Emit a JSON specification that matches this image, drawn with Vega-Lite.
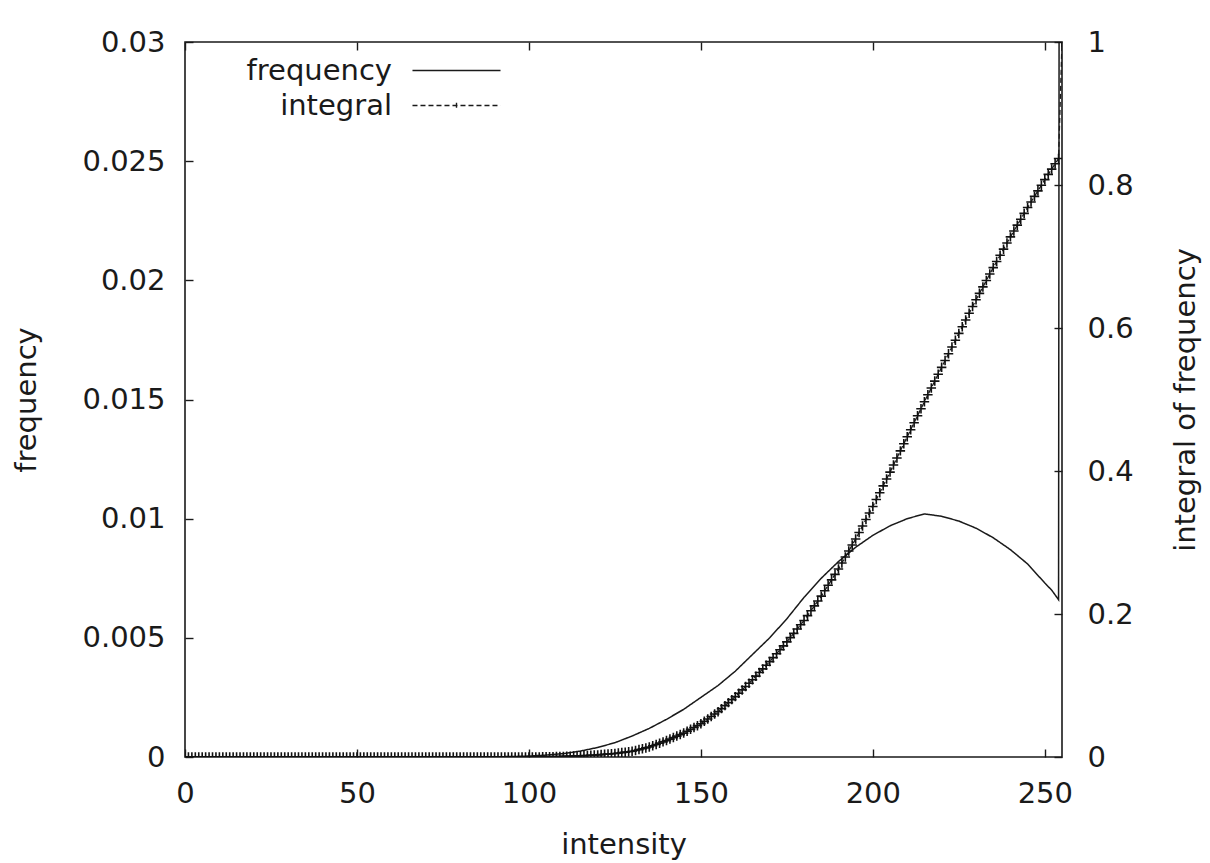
{
  "$schema": "https://vega.github.io/schema/vega-lite/v6.json",
  "width": 877,
  "height": 715,
  "autosize": "none",
  "padding": {"left": 185, "top": 42, "right": 148, "bottom": 106},
  "background": "white",
  "config": {
    "font": "DejaVu Sans",
    "view": {"stroke": "#1a1a1a", "strokeWidth": 1.6},
    "axis": {
      "domain": false,
      "grid": false,
      "tickColor": "#1a1a1a",
      "tickWidth": 1.4,
      "tickSize": 8,
      "offset": -8,
      "labelFont": "DejaVu Sans",
      "labelFontSize": 29,
      "labelColor": "#1a1a1a",
      "titleFont": "DejaVu Sans",
      "titleFontSize": 29,
      "titleFontWeight": "normal",
      "titleColor": "#1a1a1a"
    },
    "legend": {
      "labelFont": "DejaVu Sans",
      "labelFontSize": 29,
      "labelColor": "#1a1a1a"
    }
  },
  "datasets": {
    "freq": [
      {"i": 0, "f": 0}, {"i": 10, "f": 0}, {"i": 20, "f": 0}, {"i": 30, "f": 0}, {"i": 40, "f": 0},
      {"i": 50, "f": 0}, {"i": 60, "f": 0}, {"i": 70, "f": 0}, {"i": 80, "f": 0}, {"i": 90, "f": 0.00001},
      {"i": 95, "f": 0.00002}, {"i": 100, "f": 0.00004}, {"i": 105, "f": 0.00008}, {"i": 110, "f": 0.00014},
      {"i": 115, "f": 0.00025}, {"i": 120, "f": 0.0004}, {"i": 125, "f": 0.0006}, {"i": 130, "f": 0.00088},
      {"i": 135, "f": 0.0012}, {"i": 140, "f": 0.00158}, {"i": 145, "f": 0.002}, {"i": 150, "f": 0.0025},
      {"i": 155, "f": 0.003}, {"i": 160, "f": 0.0036}, {"i": 165, "f": 0.0043}, {"i": 170, "f": 0.005},
      {"i": 175, "f": 0.0058}, {"i": 180, "f": 0.0067}, {"i": 185, "f": 0.0075}, {"i": 190, "f": 0.0082},
      {"i": 195, "f": 0.0088}, {"i": 200, "f": 0.0093}, {"i": 205, "f": 0.0097}, {"i": 210, "f": 0.01},
      {"i": 215, "f": 0.0102}, {"i": 220, "f": 0.0101}, {"i": 225, "f": 0.0099}, {"i": 230, "f": 0.0096},
      {"i": 235, "f": 0.0092}, {"i": 240, "f": 0.0087}, {"i": 245, "f": 0.0081}, {"i": 250, "f": 0.0073},
      {"i": 252, "f": 0.007}, {"i": 254, "f": 0.0066}, {"i": 255, "f": 0.163}
    ],
    "integ": [
      {"i": 0, "v": 0}, {"i": 1, "v": 0}, {"i": 2, "v": 0}, {"i": 3, "v": 0}, {"i": 4, "v": 0},
      {"i": 5, "v": 0}, {"i": 6, "v": 0}, {"i": 7, "v": 0}, {"i": 8, "v": 0}, {"i": 9, "v": 0},
      {"i": 10, "v": 0}, {"i": 11, "v": 0}, {"i": 12, "v": 0}, {"i": 13, "v": 0}, {"i": 14, "v": 0},
      {"i": 15, "v": 0}, {"i": 16, "v": 0}, {"i": 17, "v": 0}, {"i": 18, "v": 0}, {"i": 19, "v": 0},
      {"i": 20, "v": 0}, {"i": 21, "v": 0}, {"i": 22, "v": 0}, {"i": 23, "v": 0}, {"i": 24, "v": 0},
      {"i": 25, "v": 0}, {"i": 26, "v": 0}, {"i": 27, "v": 0}, {"i": 28, "v": 0}, {"i": 29, "v": 0},
      {"i": 30, "v": 0}, {"i": 31, "v": 0}, {"i": 32, "v": 0}, {"i": 33, "v": 0}, {"i": 34, "v": 0},
      {"i": 35, "v": 0}, {"i": 36, "v": 0}, {"i": 37, "v": 0}, {"i": 38, "v": 0}, {"i": 39, "v": 0},
      {"i": 40, "v": 0}, {"i": 41, "v": 0}, {"i": 42, "v": 0}, {"i": 43, "v": 0}, {"i": 44, "v": 0},
      {"i": 45, "v": 0}, {"i": 46, "v": 0}, {"i": 47, "v": 0}, {"i": 48, "v": 0}, {"i": 49, "v": 0},
      {"i": 50, "v": 0}, {"i": 51, "v": 0}, {"i": 52, "v": 0}, {"i": 53, "v": 0}, {"i": 54, "v": 0},
      {"i": 55, "v": 0}, {"i": 56, "v": 0}, {"i": 57, "v": 0}, {"i": 58, "v": 0}, {"i": 59, "v": 0},
      {"i": 60, "v": 0}, {"i": 61, "v": 0}, {"i": 62, "v": 0}, {"i": 63, "v": 0}, {"i": 64, "v": 0},
      {"i": 65, "v": 0}, {"i": 66, "v": 0}, {"i": 67, "v": 0}, {"i": 68, "v": 0}, {"i": 69, "v": 0},
      {"i": 70, "v": 0}, {"i": 71, "v": 0}, {"i": 72, "v": 0}, {"i": 73, "v": 0}, {"i": 74, "v": 0},
      {"i": 75, "v": 0}, {"i": 76, "v": 0}, {"i": 77, "v": 0}, {"i": 78, "v": 0}, {"i": 79, "v": 0},
      {"i": 80, "v": 0}, {"i": 81, "v": 0}, {"i": 82, "v": 0}, {"i": 83, "v": 0}, {"i": 84, "v": 0},
      {"i": 85, "v": 0}, {"i": 86, "v": 0}, {"i": 87, "v": 0}, {"i": 88, "v": 0}, {"i": 89, "v": 0},
      {"i": 90, "v": 0}, {"i": 91, "v": 0}, {"i": 92, "v": 0}, {"i": 93, "v": 0}, {"i": 94, "v": 0},
      {"i": 95, "v": 0}, {"i": 96, "v": 0}, {"i": 97, "v": 0}, {"i": 98, "v": 0}, {"i": 99, "v": 0},
      {"i": 100, "v": 0}, {"i": 101, "v": 0.00005}, {"i": 102, "v": 0.0001}, {"i": 103, "v": 0.00015}, {"i": 104, "v": 0.0002},
      {"i": 105, "v": 0.00025}, {"i": 106, "v": 0.00037}, {"i": 107, "v": 0.00049}, {"i": 108, "v": 0.00061}, {"i": 109, "v": 0.00073},
      {"i": 110, "v": 0.00085}, {"i": 111, "v": 0.00102}, {"i": 112, "v": 0.00119}, {"i": 113, "v": 0.00136}, {"i": 114, "v": 0.00153},
      {"i": 115, "v": 0.0017}, {"i": 116, "v": 0.00195}, {"i": 117, "v": 0.0022}, {"i": 118, "v": 0.00245}, {"i": 119, "v": 0.0027},
      {"i": 120, "v": 0.00295}, {"i": 121, "v": 0.00335}, {"i": 122, "v": 0.00375}, {"i": 123, "v": 0.00415}, {"i": 124, "v": 0.00455},
      {"i": 125, "v": 0.00495}, {"i": 126, "v": 0.00555}, {"i": 127, "v": 0.00615}, {"i": 128, "v": 0.00675}, {"i": 129, "v": 0.00735},
      {"i": 130, "v": 0.00795}, {"i": 131, "v": 0.00915}, {"i": 132, "v": 0.01035}, {"i": 133, "v": 0.01155}, {"i": 134, "v": 0.01275},
      {"i": 135, "v": 0.01395}, {"i": 136, "v": 0.01575}, {"i": 137, "v": 0.01755}, {"i": 138, "v": 0.01935}, {"i": 139, "v": 0.02115},
      {"i": 140, "v": 0.02295}, {"i": 141, "v": 0.02505}, {"i": 142, "v": 0.02715}, {"i": 143, "v": 0.02925}, {"i": 144, "v": 0.03135},
      {"i": 145, "v": 0.03345}, {"i": 146, "v": 0.03605}, {"i": 147, "v": 0.03865}, {"i": 148, "v": 0.04125}, {"i": 149, "v": 0.04385},
      {"i": 150, "v": 0.04645}, {"i": 151, "v": 0.04985}, {"i": 152, "v": 0.05325}, {"i": 153, "v": 0.05665}, {"i": 154, "v": 0.06005},
      {"i": 155, "v": 0.06345}, {"i": 156, "v": 0.06765}, {"i": 157, "v": 0.07185}, {"i": 158, "v": 0.07605}, {"i": 159, "v": 0.08025},
      {"i": 160, "v": 0.08445}, {"i": 161, "v": 0.08915}, {"i": 162, "v": 0.09385}, {"i": 163, "v": 0.09855}, {"i": 164, "v": 0.10325},
      {"i": 165, "v": 0.10795}, {"i": 166, "v": 0.11305}, {"i": 167, "v": 0.11815}, {"i": 168, "v": 0.12325}, {"i": 169, "v": 0.12835},
      {"i": 170, "v": 0.13345}, {"i": 171, "v": 0.13895}, {"i": 172, "v": 0.14445}, {"i": 173, "v": 0.14995}, {"i": 174, "v": 0.15545},
      {"i": 175, "v": 0.16095}, {"i": 176, "v": 0.16695}, {"i": 177, "v": 0.17295}, {"i": 178, "v": 0.17895}, {"i": 179, "v": 0.18495},
      {"i": 180, "v": 0.19095}, {"i": 181, "v": 0.19775}, {"i": 182, "v": 0.20455}, {"i": 183, "v": 0.21135}, {"i": 184, "v": 0.21815},
      {"i": 185, "v": 0.22495}, {"i": 186, "v": 0.23255}, {"i": 187, "v": 0.24015}, {"i": 188, "v": 0.24775}, {"i": 189, "v": 0.25535},
      {"i": 190, "v": 0.26295}, {"i": 191, "v": 0.27135}, {"i": 192, "v": 0.27975}, {"i": 193, "v": 0.28815}, {"i": 194, "v": 0.29655},
      {"i": 195, "v": 0.30495}, {"i": 196, "v": 0.31405}, {"i": 197, "v": 0.32315}, {"i": 198, "v": 0.33225}, {"i": 199, "v": 0.34135},
      {"i": 200, "v": 0.35045}, {"i": 201, "v": 0.36005}, {"i": 202, "v": 0.36965}, {"i": 203, "v": 0.37925}, {"i": 204, "v": 0.38885},
      {"i": 205, "v": 0.39845}, {"i": 206, "v": 0.40835}, {"i": 207, "v": 0.41825}, {"i": 208, "v": 0.42815}, {"i": 209, "v": 0.43805},
      {"i": 210, "v": 0.44795}, {"i": 211, "v": 0.45775}, {"i": 212, "v": 0.46755}, {"i": 213, "v": 0.47735}, {"i": 214, "v": 0.48715},
      {"i": 215, "v": 0.49695}, {"i": 216, "v": 0.50655}, {"i": 217, "v": 0.51615}, {"i": 218, "v": 0.52575}, {"i": 219, "v": 0.53535},
      {"i": 220, "v": 0.54495}, {"i": 221, "v": 0.55445}, {"i": 222, "v": 0.56395}, {"i": 223, "v": 0.57345}, {"i": 224, "v": 0.58295},
      {"i": 225, "v": 0.59245}, {"i": 226, "v": 0.60185}, {"i": 227, "v": 0.61125}, {"i": 228, "v": 0.62065}, {"i": 229, "v": 0.63005},
      {"i": 230, "v": 0.63945}, {"i": 231, "v": 0.64845}, {"i": 232, "v": 0.65745}, {"i": 233, "v": 0.66645}, {"i": 234, "v": 0.67545},
      {"i": 235, "v": 0.68445}, {"i": 236, "v": 0.69305}, {"i": 237, "v": 0.70165}, {"i": 238, "v": 0.71025}, {"i": 239, "v": 0.71885},
      {"i": 240, "v": 0.72745}, {"i": 241, "v": 0.73565}, {"i": 242, "v": 0.74385}, {"i": 243, "v": 0.75205}, {"i": 244, "v": 0.76025},
      {"i": 245, "v": 0.76845}, {"i": 246, "v": 0.77625}, {"i": 247, "v": 0.78405}, {"i": 248, "v": 0.79185}, {"i": 249, "v": 0.79965},
      {"i": 250, "v": 0.80745}, {"i": 251, "v": 0.81485}, {"i": 252, "v": 0.82225}, {"i": 253, "v": 0.82965}, {"i": 254, "v": 0.83705},
      {"i": 255, "v": 1.0}
    ]
  },
  "layer": [
    {
      "data": {"name": "freq"},
      "mark": {"type": "line", "color": "#1a1a1a", "strokeWidth": 1.5, "clip": true},
      "encoding": {
        "x": {
          "field": "i", "type": "quantitative",
          "scale": {"domain": [0, 255], "nice": false, "zero": false},
          "axis": {"orient": "bottom", "values": [0, 50, 100, 150, 200, 250], "labelPadding": 22, "title": "intensity", "titlePadding": 22, "labelFlush": false}
        },
        "y": {
          "field": "f", "type": "quantitative",
          "scale": {"domain": [0, 0.03], "nice": false, "zero": false},
          "axis": {"orient": "left", "values": [0, 0.005, 0.01, 0.015, 0.02, 0.025, 0.03], "format": "~g", "labelPadding": 20, "title": "frequency", "titlePadding": 40, "labelFlush": false}
        },
        "strokeDash": {
          "datum": "frequency",
          "scale": {"domain": ["frequency", "integral"], "range": [[1, 0], [5, 3]]},
          "legend": {
            "title": null,
            "orient": "none",
            "legendX": 257,
            "legendY": 14,
            "padding": 0,
            "symbolType": "M-5,0H5",
            "symbolSize": 310,
            "symbolStrokeColor": "#1a1a1a",
            "symbolStrokeWidth": 1.4,
            "symbolFillColor": "transparent",
            "labelAlign": "right",
            "labelOffset": -79,
            "rowPadding": 5,
            "encode": {
              "symbols": {
                "update": {
                  "shape": {"signal": "datum.value === 'integral' ? 'M-5,0H5M0,-0.3V0.3' : 'M-5,0H5'"}
                }
              }
            }
          }
        }
      }
    },
    {
      "data": {"name": "integ"},
      "mark": {"type": "line", "color": "#1a1a1a", "strokeWidth": 1.3, "clip": true},
      "encoding": {
        "x": {"field": "i", "type": "quantitative", "axis": null},
        "y": {
          "field": "v", "type": "quantitative",
          "scale": {"domain": [0, 1], "nice": false, "zero": false},
          "axis": {"orient": "right", "values": [0, 0.2, 0.4, 0.6, 0.8, 1], "format": "~g", "labelPadding": 25, "title": "integral of frequency", "titleAngle": 270, "titlePadding": 67, "labelFlush": false}
        },
        "strokeDash": {"datum": "integral"}
      }
    },
    {
      "data": {"name": "integ"},
      "mark": {"type": "point", "shape": "M-1,0H1M0,-1V1", "size": 90, "filled": false, "stroke": "#111111", "strokeWidth": 1.6, "opacity": 1, "clip": true},
      "encoding": {
        "x": {
          "field": "i", "type": "quantitative",
          "axis": {"orient": "top", "values": [0, 50, 100, 150, 200, 250], "labels": false, "title": null}
        },
        "y": {
          "field": "v", "type": "quantitative",
          "scale": {"domain": [0, 1], "nice": false, "zero": false},
          "axis": null
        }
      }
    }
  ],
  "resolve": {"scale": {"y": "independent"}, "axis": {"x": "independent", "y": "independent"}}
}
